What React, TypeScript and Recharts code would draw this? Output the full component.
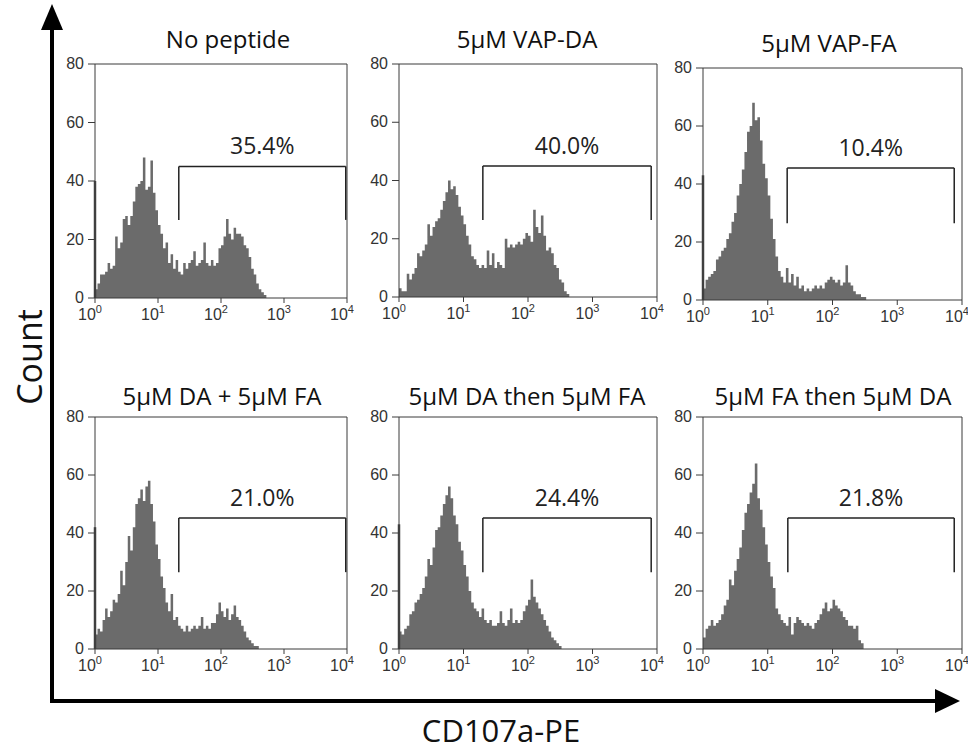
import React from 'react';
import { ComposedChart, Area, XAxis, YAxis, ReferenceLine } from 'recharts';

// ---------- data ----------
const BIN = 0.04; // bin width in log10 units
const titles = ['No peptide', '5μM VAP-DA', '5μM VAP-FA', '5μM DA + 5μM FA', '5μM DA then 5μM FA', '5μM FA then 5μM DA'];
const gatePercent = ['35.4%', '40.0%', '10.4%', '21.0%', '24.4%', '21.8%'];
const gateLeft = [1.33, 1.3, 1.3, 1.33, 1.3, 1.31];
const gateRight = [3.98, 3.91, 3.88, 3.98, 3.91, 3.88];
const gateTop = [45, 45, 45.5, 45.2, 45.2, 45.2];
const gateBottom = [26.7, 26.4, 26.5, 26.5, 26.5, 26.5];
const pileUp = [40, 0, 43, 42, 43, 0];
const xTicks = [0, 1, 2, 3, 4];
const yTicks = [0, 20, 40, 60, 80];

const countsNoPeptide = [
  3, 5, 8, 8, 9, 12, 10, 11, 21, 17, 19, 27, 28, 25, 28, 33, 38, 39, 40, 48,
  37, 38, 47, 36, 30, 25, 22, 17, 19, 12, 15, 10, 13, 9, 8, 12, 10, 12, 13, 16,
  11, 12, 13, 19, 12, 11, 13, 11, 12, 17, 18, 21, 27, 22, 20, 24, 22, 22, 21, 18,
  17, 14, 10, 8, 5, 3, 2, 1, 0,
];
const countsVapDA = [
  3, 2, 2, 8, 6, 8, 10, 15, 14, 16, 18, 25, 21, 24, 26, 27, 30, 33, 36, 40,
  37, 38, 35, 31, 28, 25, 21, 18, 14, 13, 11, 10, 11, 10, 16, 11, 15, 10, 12, 11,
  10, 20, 17, 18, 17, 18, 19, 18, 20, 22, 21, 19, 30, 24, 22, 28, 21, 16, 17, 15,
  11, 10, 6, 5, 2, 1, 0,
];
const countsVapFA = [
  4, 7, 8, 9, 10, 14, 15, 17, 18, 21, 23, 27, 30, 36, 40, 45, 51, 58, 60, 68,
  62, 63, 55, 47, 42, 36, 28, 21, 15, 10, 8, 6, 11, 6, 9, 5, 8, 4, 5, 3,
  4, 3, 4, 5, 4, 5, 4, 6, 7, 8, 7, 6, 7, 5, 6, 12, 6, 5, 3, 2,
  2, 1, 1, 0,
];
const countsDAplusFA = [
  5, 7, 6, 10, 14, 11, 13, 17, 16, 19, 27, 22, 30, 39, 34, 42, 50, 52, 55, 51,
  56, 58, 50, 44, 36, 31, 25, 21, 16, 13, 19, 10, 11, 8, 7, 6, 8, 6, 7, 8,
  7, 8, 11, 7, 8, 7, 9, 9, 12, 16, 13, 11, 14, 10, 12, 15, 11, 10, 8, 6,
  4, 3, 2, 1, 1, 0,
];
const countsDAthenFA = [
  6, 5, 7, 8, 12, 13, 16, 17, 19, 21, 25, 31, 29, 35, 41, 42, 46, 50, 53, 56,
  52, 46, 43, 37, 34, 29, 25, 20, 16, 14, 13, 11, 14, 10, 9, 10, 8, 8, 9, 13,
  9, 8, 10, 14, 9, 10, 9, 10, 13, 15, 17, 24, 18, 16, 14, 12, 10, 8, 6, 4,
  3, 2, 1, 0,
];
const countsFAthenDA = [
  4, 7, 8, 10, 8, 9, 10, 12, 15, 17, 24, 22, 27, 31, 35, 41, 47, 50, 54, 57,
  64, 52, 48, 42, 36, 30, 25, 21, 14, 12, 10, 9, 8, 11, 5, 9, 11, 10, 9, 8,
  9, 8, 7, 9, 10, 12, 14, 16, 13, 14, 17, 15, 14, 13, 11, 10, 8, 8, 7, 8,
  3, 2, 0,
];
const allCounts = [countsNoPeptide, countsVapDA, countsVapFA, countsDAplusFA, countsDAthenFA, countsFAthenDA];

// ---------- layout ----------
const layout = [
  { left: 95, top: 64, w: 252, h: 234, titleX: 228, titleY: 48 },
  { left: 399, top: 64, w: 258, h: 233, titleX: 527, titleY: 48 },
  { left: 703, top: 68, w: 259, h: 232, titleX: 829, titleY: 52 },
  { left: 95, top: 417, w: 252, h: 232, titleX: 222, titleY: 405 },
  { left: 399, top: 417, w: 258, h: 232, titleX: 527, titleY: 405 },
  { left: 703, top: 417, w: 259, h: 232, titleX: 833, titleY: 405 },
];
const YW = 50;
const MT = 10;
const MR = 8;
const XH = 30;
const tickFont = '"Liberation Sans", Arial, sans-serif';
const textFont = '"Open Sans", "Noto Sans", sans-serif';
const histFill = '#6b6b6b';
const frameColor = '#3a3a3a';

const LogTick = (props: any) => {
  const { x, y, payload } = props;
  return (
    <text x={x - 5} y={y + 15} textAnchor="middle" fontFamily={tickFont} fontSize={16} fill="#333">
      <tspan>10</tspan>
      <tspan dy={-7} fontSize={11}>{payload.value}</tspan>
    </text>
  );
};

const CountTick = (props: any) => {
  const { x, y, payload } = props;
  return (
    <text x={x} y={y + 5} textAnchor="end" fontFamily={tickFont} fontSize={16} fill="#333">
      {payload.value}
    </text>
  );
};

function Panel({ idx }: { idx: number }) {
  const L = layout[idx];
  const counts = allCounts[idx];
  const data = counts.map((c, i) => ({ x: Math.round(i * BIN * 100) / 100, y: c }));
  data.push({ x: Math.round(counts.length * BIN * 100) / 100, y: 0 });
  const W = YW + L.w + MR;
  const H = MT + L.h + XH;
  const gl = gateLeft[idx];
  const gr = gateRight[idx];
  const gt = gateTop[idx];
  const gb = gateBottom[idx];
  return (
    <div style={{ position: 'absolute', left: L.left - YW, top: L.top - MT, width: W, height: H }}>
      <ComposedChart width={W} height={H} data={data} margin={{ top: MT, right: MR, bottom: 0, left: 0 }}>
        <XAxis
          type="number"
          dataKey="x"
          domain={[0, 4]}
          ticks={xTicks}
          interval={0}
          allowDataOverflow
          height={XH}
          tick={<LogTick />}
          tickSize={5}
          stroke={frameColor}
        />
        <YAxis
          type="number"
          domain={[0, 80]}
          ticks={yTicks}
          interval={0}
          width={YW}
          tickSize={7}
          tickMargin={4}
          stroke={frameColor}
          tick={<CountTick />}
        />
        <Area
          type="stepAfter"
          dataKey="y"
          stroke="none"
          fill={histFill}
          fillOpacity={1}
          isAnimationActive={false}
          dot={false}
          activeDot={false}
        />
        <ReferenceLine y={80} stroke={frameColor} />
        <ReferenceLine x={4} stroke={frameColor} />
        {pileUp[idx] > 0 && (
          <ReferenceLine segment={[{ x: 0, y: 0 }, { x: 0, y: pileUp[idx] }]} stroke="#444" strokeWidth={2.5} />
        )}
        <ReferenceLine segment={[{ x: gl, y: gb }, { x: gl, y: gt }]} stroke="#222" strokeWidth={1.5} />
        <ReferenceLine segment={[{ x: gr, y: gb }, { x: gr, y: gt }]} stroke="#222" strokeWidth={1.5} />
        <ReferenceLine
          segment={[{ x: gl, y: gt }, { x: gr, y: gt }]}
          stroke="#222"
          strokeWidth={1.5}
          label={{ value: gatePercent[idx], position: 'top', offset: 12, fontSize: 23, fill: '#222', fontFamily: textFont }}
        />
      </ComposedChart>
    </div>
  );
}

export default function App() {
  return (
    <div style={{ position: 'absolute', left: 0, top: 0, width: 968, height: 751, overflow: 'hidden', background: '#fff' }}>
      {layout.map((_, i) => (
        <Panel key={i} idx={i} />
      ))}
      <svg width={968} height={751} style={{ position: 'absolute', left: 0, top: 0, pointerEvents: 'none' }}>
        {layout.map((L, i) => (
          <text key={i} x={L.titleX} y={L.titleY} textAnchor="middle" fontFamily={textFont} fontSize={24} fill="#111">
            {titles[i]}
          </text>
        ))}
        <line x1={52} y1={26} x2={52} y2={703} stroke="#000" strokeWidth={4} />
        <polygon points="52,4 41,30 63,30" fill="#000" />
        <line x1={50} y1={701} x2={938} y2={701} stroke="#000" strokeWidth={4} />
        <polygon points="960,701 935,689 935,713" fill="#000" />
        <text x={42} y={357} transform="rotate(-90, 42, 357)" textAnchor="middle" fontFamily={textFont} fontSize={34} fill="#111">
          Count
        </text>
        <text x={501} y={742} textAnchor="middle" fontFamily={textFont} fontSize={31} fill="#111">
          CD107a-PE
        </text>
      </svg>
    </div>
  );
}
